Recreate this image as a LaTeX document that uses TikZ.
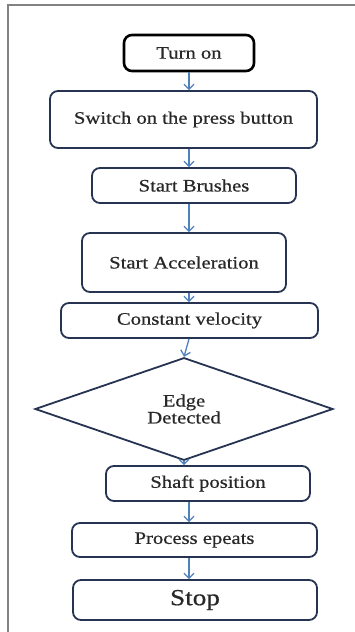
\documentclass[tikz,border=0pt]{standalone}
\usepackage{fontspec}
\usetikzlibrary{shapes.geometric,arrows.meta}
\newfontfamily\flowfont{Liberation Serif}[FakeStretch=1.18,FakeBold=0.6]
\definecolor{boxline}{RGB}{38,52,82}
\definecolor{arrowblue}{RGB}{79,129,189}
\definecolor{framegray}{RGB}{130,130,130}
\definecolor{textgray}{RGB}{40,40,40}
\begin{document}
\begin{tikzpicture}[x=1pt,y=-1pt,
    procbox/.style={draw=boxline, line width=1.8pt, rounded corners=8pt, inner sep=0pt,
        text=textgray, font=\flowfont\fontsize{17.5}{15}\selectfont},
    startbox/.style={procbox, draw=black, line width=2.6pt},
    decbox/.style={diamond, draw=boxline, line width=1.8pt, inner sep=0pt, align=center,
        text=textgray, font=\flowfont\fontsize{17.5}{15}\selectfont},
    flowarrow/.style={draw=arrowblue, line width=1.3pt, -{Straight Barb[length=5pt,width=10pt]}}]
    \useasboundingbox (0,0) rectangle (355,632);

    % 外框
    \draw[framegray, line width=1.5pt] (355,5) -- (8,5) -- (8,632);

    % 箭头所在的竖线
    \coordinate (axis) at (189,0);

    % 流程框
    \node[startbox, minimum width=130pt, minimum height=36pt] (turn) at (189,53) {Turn on};
    \node[procbox, minimum width=267pt, minimum height=57pt] (switch) at (183.5,119.5) {Switch on the press button};
    \node[procbox, minimum width=204pt, minimum height=35pt] (brushes) at (194,185.5) {Start Brushes};
    \node[procbox, minimum width=204pt, minimum height=59pt] (accel) at (184,262.5) {Start Acceleration};
    \node[procbox, minimum width=257pt, minimum height=35pt] (const) at (189.5,320.5) {Constant velocity};

    % 判断框
    \node[decbox, minimum width=298pt, minimum height=98pt] (edge) at (184,409) {Edge\\Detected};

    \node[procbox, minimum width=204pt, minimum height=35pt] (shaft) at (208,483.5) {Shaft position};
    \node[procbox, minimum width=245pt, minimum height=34pt] (process) at (194.5,540) {Process epeats};
    \node[procbox, minimum width=244pt, minimum height=40pt,
        font=\flowfont\fontsize{23}{20}\selectfont] (stop) at (195,600) {Stop};

    % 连线
    \draw[flowarrow] (turn.south -| axis) -- (switch.north -| axis);
    \draw[flowarrow] (switch.south -| axis) -- (brushes.north -| axis);
    \draw[flowarrow] (brushes.south -| axis) -- (accel.north -| axis);
    \draw[flowarrow] (accel.south -| axis) -- (const.north -| axis);
    \draw[flowarrow] (const.south -| axis) -- (edge.north);
    \draw[flowarrow] (edge.south) -- (shaft.north -| edge.south);
    \draw[flowarrow] (shaft.south -| axis) -- (process.north -| axis);
    \draw[flowarrow] (process.south -| axis) -- (stop.north -| axis);
\end{tikzpicture}
\end{document}
